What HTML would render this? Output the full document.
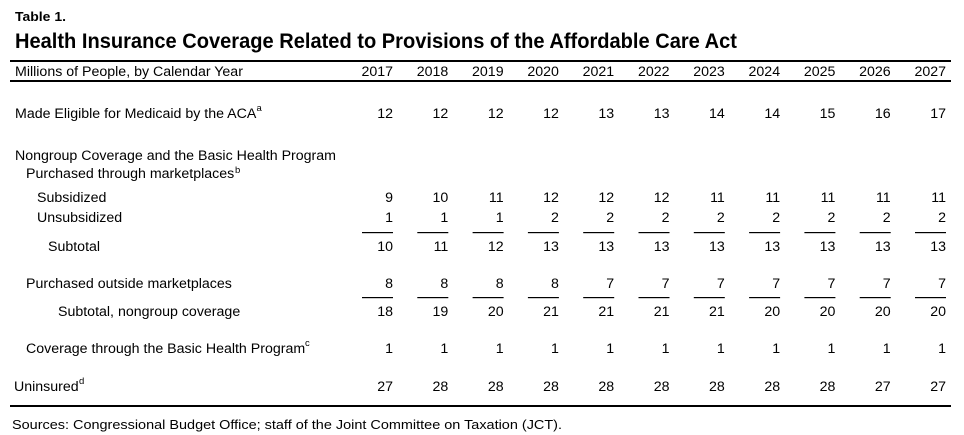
<!DOCTYPE html>
<html>
<head>
<meta charset="utf-8">
<style>
html,body{margin:0;padding:0;background:#fff;}
svg{display:block;}
text{font-family:"Liberation Sans",Arial,sans-serif;fill:#000;}
.n{font-size:14.2px;text-anchor:end;}
.l{font-size:14.2px;}
.s{font-size:9.5px;}
</style>
</head>
<body>
<svg width="964" height="435" viewBox="0 0 964 435" xmlns="http://www.w3.org/2000/svg">
<rect width="964" height="435" fill="#fff"/>
<text x="15" y="21" style="font-size:12.5px;font-weight:bold" textLength="51" lengthAdjust="spacingAndGlyphs">Table 1.</text>
<text x="15" y="48" style="font-size:21px;font-weight:bold" textLength="722" lengthAdjust="spacingAndGlyphs">Health Insurance Coverage Related to Provisions of the Affordable Care Act</text>

<rect x="10" y="60" width="941" height="2" fill="#000"/>
<rect x="10" y="80" width="941" height="2" fill="#000"/>

<text class="l" x="15" y="76">Millions of People, by Calendar Year</text>
<text class="n" x="393" y="76">2017</text>
<text class="n" x="448.3" y="76">2018</text>
<text class="n" x="503.6" y="76">2019</text>
<text class="n" x="558.9" y="76">2020</text>
<text class="n" x="614.2" y="76">2021</text>
<text class="n" x="669.5" y="76">2022</text>
<text class="n" x="724.8" y="76">2023</text>
<text class="n" x="780.1" y="76">2024</text>
<text class="n" x="835.4" y="76">2025</text>
<text class="n" x="890.7" y="76">2026</text>
<text class="n" x="946" y="76">2027</text>

<!-- Made eligible -->
<text class="l" x="15" y="118">Made Eligible for Medicaid by the ACA</text>
<text class="s" x="256.5" y="111">a</text>
<text class="n" x="393" y="118">12</text>
<text class="n" x="448.3" y="118">12</text>
<text class="n" x="503.6" y="118">12</text>
<text class="n" x="558.9" y="118">12</text>
<text class="n" x="614.2" y="118">13</text>
<text class="n" x="669.5" y="118">13</text>
<text class="n" x="724.8" y="118">14</text>
<text class="n" x="780.1" y="118">14</text>
<text class="n" x="835.4" y="118">15</text>
<text class="n" x="890.7" y="118">16</text>
<text class="n" x="946" y="118">17</text>

<text class="l" x="15" y="160">Nongroup Coverage and the Basic Health Program</text>
<text class="l" x="26" y="178">Purchased through marketplaces</text>
<text class="s" x="235" y="173">b</text>

<!-- Subsidized -->
<text class="l" x="37" y="202">Subsidized</text>
<text class="n" x="393" y="202">9</text>
<text class="n" x="448.3" y="202">10</text>
<text class="n" x="503.6" y="202">11</text>
<text class="n" x="558.9" y="202">12</text>
<text class="n" x="614.2" y="202">12</text>
<text class="n" x="669.5" y="202">12</text>
<text class="n" x="724.8" y="202">11</text>
<text class="n" x="780.1" y="202">11</text>
<text class="n" x="835.4" y="202">11</text>
<text class="n" x="890.7" y="202">11</text>
<text class="n" x="946" y="202">11</text>

<!-- Unsubsidized -->
<text class="l" x="37" y="222">Unsubsidized</text>
<text class="n" x="393" y="222">1</text>
<text class="n" x="448.3" y="222">1</text>
<text class="n" x="503.6" y="222">1</text>
<text class="n" x="558.9" y="222">2</text>
<text class="n" x="614.2" y="222">2</text>
<text class="n" x="669.5" y="222">2</text>
<text class="n" x="724.8" y="222">2</text>
<text class="n" x="780.1" y="222">2</text>
<text class="n" x="835.4" y="222">2</text>
<text class="n" x="890.7" y="222">2</text>
<text class="n" x="946" y="222">2</text>

<g fill="#000">
<rect x="362" y="232" width="31" height="1.2"/>
<rect x="417.3" y="232" width="31" height="1.2"/>
<rect x="472.6" y="232" width="31" height="1.2"/>
<rect x="527.9" y="232" width="31" height="1.2"/>
<rect x="583.2" y="232" width="31" height="1.2"/>
<rect x="638.5" y="232" width="31" height="1.2"/>
<rect x="693.8" y="232" width="31" height="1.2"/>
<rect x="749.1" y="232" width="31" height="1.2"/>
<rect x="804.4" y="232" width="31" height="1.2"/>
<rect x="859.7" y="232" width="31" height="1.2"/>
<rect x="915" y="232" width="31" height="1.2"/>
</g>

<!-- Subtotal -->
<text class="l" x="48" y="251">Subtotal</text>
<text class="n" x="393" y="251">10</text>
<text class="n" x="448.3" y="251">11</text>
<text class="n" x="503.6" y="251">12</text>
<text class="n" x="558.9" y="251">13</text>
<text class="n" x="614.2" y="251">13</text>
<text class="n" x="669.5" y="251">13</text>
<text class="n" x="724.8" y="251">13</text>
<text class="n" x="780.1" y="251">13</text>
<text class="n" x="835.4" y="251">13</text>
<text class="n" x="890.7" y="251">13</text>
<text class="n" x="946" y="251">13</text>

<!-- Purchased outside -->
<text class="l" x="26" y="288">Purchased outside marketplaces</text>
<text class="n" x="393" y="288">8</text>
<text class="n" x="448.3" y="288">8</text>
<text class="n" x="503.6" y="288">8</text>
<text class="n" x="558.9" y="288">8</text>
<text class="n" x="614.2" y="288">7</text>
<text class="n" x="669.5" y="288">7</text>
<text class="n" x="724.8" y="288">7</text>
<text class="n" x="780.1" y="288">7</text>
<text class="n" x="835.4" y="288">7</text>
<text class="n" x="890.7" y="288">7</text>
<text class="n" x="946" y="288">7</text>

<g fill="#000">
<rect x="362" y="297" width="31" height="1.2"/>
<rect x="417.3" y="297" width="31" height="1.2"/>
<rect x="472.6" y="297" width="31" height="1.2"/>
<rect x="527.9" y="297" width="31" height="1.2"/>
<rect x="583.2" y="297" width="31" height="1.2"/>
<rect x="638.5" y="297" width="31" height="1.2"/>
<rect x="693.8" y="297" width="31" height="1.2"/>
<rect x="749.1" y="297" width="31" height="1.2"/>
<rect x="804.4" y="297" width="31" height="1.2"/>
<rect x="859.7" y="297" width="31" height="1.2"/>
<rect x="915" y="297" width="31" height="1.2"/>
</g>

<!-- Subtotal nongroup -->
<text class="l" x="58" y="316">Subtotal, nongroup coverage</text>
<text class="n" x="393" y="316">18</text>
<text class="n" x="448.3" y="316">19</text>
<text class="n" x="503.6" y="316">20</text>
<text class="n" x="558.9" y="316">21</text>
<text class="n" x="614.2" y="316">21</text>
<text class="n" x="669.5" y="316">21</text>
<text class="n" x="724.8" y="316">21</text>
<text class="n" x="780.1" y="316">20</text>
<text class="n" x="835.4" y="316">20</text>
<text class="n" x="890.7" y="316">20</text>
<text class="n" x="946" y="316">20</text>

<!-- BHP -->
<text class="l" x="26" y="353">Coverage through the Basic Health Program</text>
<text class="s" x="305" y="346">c</text>
<text class="n" x="393" y="353">1</text>
<text class="n" x="448.3" y="353">1</text>
<text class="n" x="503.6" y="353">1</text>
<text class="n" x="558.9" y="353">1</text>
<text class="n" x="614.2" y="353">1</text>
<text class="n" x="669.5" y="353">1</text>
<text class="n" x="724.8" y="353">1</text>
<text class="n" x="780.1" y="353">1</text>
<text class="n" x="835.4" y="353">1</text>
<text class="n" x="890.7" y="353">1</text>
<text class="n" x="946" y="353">1</text>

<!-- Uninsured -->
<text class="l" x="14" y="391">Uninsured</text>
<text class="s" x="79" y="384">d</text>
<text class="n" x="393" y="391">27</text>
<text class="n" x="448.3" y="391">28</text>
<text class="n" x="503.6" y="391">28</text>
<text class="n" x="558.9" y="391">28</text>
<text class="n" x="614.2" y="391">28</text>
<text class="n" x="669.5" y="391">28</text>
<text class="n" x="724.8" y="391">28</text>
<text class="n" x="780.1" y="391">28</text>
<text class="n" x="835.4" y="391">28</text>
<text class="n" x="890.7" y="391">27</text>
<text class="n" x="946" y="391">27</text>

<rect x="10" y="405" width="941" height="2" fill="#000"/>

<text x="12" y="429" style="font-size:13px" textLength="550" lengthAdjust="spacingAndGlyphs">Sources: Congressional Budget Office; staff of the Joint Committee on Taxation (JCT).</text>
</svg>
</body>
</html>
